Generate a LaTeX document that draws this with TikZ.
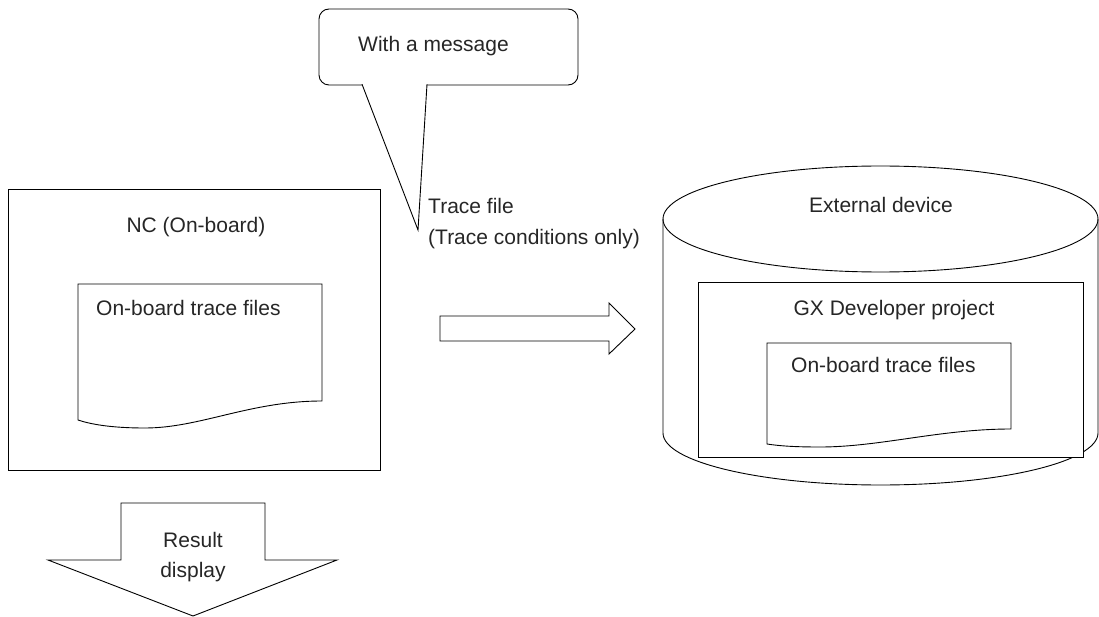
\documentclass[tikz,border=0pt]{standalone}
\usepackage{fontspec}
\setmainfont{Liberation Sans}
\usetikzlibrary{shapes.geometric}
\begin{document}
\begin{tikzpicture}[x=1pt,y=-1pt,
  shapeline/.style={draw=black,line width=0.9pt,line join=miter},
  lbl/.style={inner sep=0pt,font=\fontsize{21}{32}\selectfont,text=black!85}]
\useasboundingbox (0,0) rectangle (1099,617);
% callout
\node[shapeline,rounded corners=10pt,minimum width=259pt,minimum height=76pt,inner sep=0pt,fill=white] (msgbox) at (448.5,47) {};
\draw[shapeline,fill=white] (362,84.2) -- (418,230) -- (427,84.2);
\node[lbl,anchor=base west] (msg) at (358,52) {With a message};
\node[lbl,anchor=base west] (tf1) at (428,214) {Trace file};
\node[lbl,anchor=base west] (tf2) at (428,245) {(Trace conditions only)};
% NC box
\node[shapeline,minimum width=372pt,minimum height=281pt,inner sep=0pt] (nc) at (194,329.5) {};
\node[lbl,anchor=base] (nclbl) at (196,233) {NC (On-board)};
\draw[shapeline] (78,284) -- (322,284) -- (322,401)
  .. controls (250,401) and (200,428) .. (145,428)
  .. controls (110,428) and (90,424) .. (78,420) -- cycle;
\node[lbl,anchor=base west] (doc1) at (96,315) {On-board trace files};
% right arrow
\draw[shapeline] (440,316) -- (609,316) -- (609,303) -- (635,329) -- (609,354) -- (609,341) -- (440,341) -- cycle;
% cylinder
\draw[shapeline] (663,219) -- (663,433) arc[start angle=180,end angle=360,x radius=217.5pt,y radius=52pt] -- (1098,219);
\node[shapeline,ellipse,minimum width=435pt,minimum height=106pt,inner sep=0pt] (dev) at (880.5,219) {};
\node[lbl,anchor=base] (devlbl) at (881,213) {External device};
\node[shapeline,fill=white,minimum width=385pt,minimum height=175pt,inner sep=0pt] (gx) at (890.5,369.5) {};
\node[lbl,anchor=base] (gxlbl) at (894,315) {GX Developer project};
\draw[shapeline] (767,343) -- (1011,343) -- (1011,429)
  .. controls (940,429) and (880,447) .. (820,447)
  .. controls (795,447) and (780,446) .. (767,444) -- cycle;
\node[lbl,anchor=base west] (doc2) at (791,372) {On-board trace files};
% down arrow
\draw[shapeline] (121,503) -- (265,503) -- (265,560) -- (337,560) -- (193,616) -- (48,560) -- (121,560) -- cycle;
\node[lbl,anchor=base] (res1) at (193,547) {Result};
\node[lbl,anchor=base] (res2) at (193,577) {display};
\end{tikzpicture}
\end{document}
